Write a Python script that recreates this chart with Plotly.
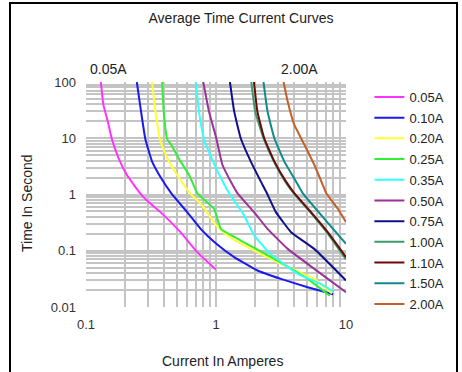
import plotly.graph_objects as go

# ---- data ----
names = ["0.05A", "0.10A", "0.20A", "0.25A", "0.35A", "0.50A", "0.75A", "1.00A", "1.10A", "1.50A", "2.00A"]
colors = ["#ff33ff", "#1a1aee", "#ffff33", "#33ee33", "#33ffff", "#993399", "#10108a",
          "#3a9a6e", "#6a0a0a", "#108a8a", "#c0602a"]

x_005 = [0.130, 0.136, 0.147, 0.158, 0.178, 0.206, 0.26, 0.30, 0.374, 0.533, 0.718, 0.995]
y_005 = [100, 39.5, 20, 9.7, 4.45, 2.24, 1.06, 0.75, 0.486, 0.214, 0.0944, 0.0465]

x_010 = [0.246, 0.265, 0.286, 0.322, 0.378, 0.452, 0.600, 0.762, 0.99, 1.38, 2.08, 3.16, 5.07, 7.96]
y_010 = [100, 30, 9.7, 3.88, 1.96, 1.06, 0.486, 0.245, 0.137, 0.0769, 0.0446, 0.0316, 0.0225, 0.0169]

x_020 = [0.322, 0.342, 0.370, 0.421, 0.502, 0.63, 0.783, 1.0, 1.22, 1.75, 3.16, 5.7, 7.8]
y_020 = [100, 30, 9.7, 4.45, 2.24, 1.06, 0.64, 0.282, 0.187, 0.116, 0.0585, 0.0316, 0.0174]

x_025 = [0.385, 0.396, 0.421, 0.452, 0.533, 0.62, 0.718, 0.966, 1.09, 1.55, 2.8, 5.07, 7.5]
y_025 = [100, 30, 9.7, 7.66, 3.88, 2.24, 1.06, 0.557, 0.245, 0.152, 0.0718, 0.0316, 0.0158]

x_035 = [0.697, 0.74, 0.808, 0.90, 1.0, 1.26, 1.64, 1.96, 2.62, 4.25, 6.43, 8.05]
y_035 = [100, 30, 9.7, 5.1, 2.95, 1.06, 0.43, 0.19, 0.088, 0.0388, 0.0255, 0.0186]

x_050 = [0.798, 0.883, 1.0, 1.12, 1.34, 1.46, 1.96, 2.49, 3.56, 5.7, 10]
y_050 = [100, 30, 10.5, 3.38, 1.49, 1.06, 0.486, 0.245, 0.108, 0.0477, 0.0183]

x_075 = [1.28, 1.38, 1.55, 1.85, 2.21, 2.46, 2.89, 3.78, 5.7, 10]
y_075 = [100, 30, 10, 3.88, 1.71, 1.06, 0.486, 0.214, 0.108, 0.0296]

x_100 = [1.87, 2.0, 2.32, 2.78, 3.4, 3.95, 5.3, 7.1, 10]
y_100 = [100, 30, 10, 3.88, 1.71, 1.06, 0.486, 0.214, 0.070]

x_110 = [1.96, 2.08, 2.35, 2.81, 3.45, 4.0, 5.38, 7.24, 10]
y_110 = [100, 30, 10, 3.88, 1.71, 1.06, 0.486, 0.214, 0.077]

x_150 = [2.32, 2.49, 2.81, 3.35, 4.12, 4.64, 6.82, 10]
y_150 = [100, 30, 10, 3.88, 1.71, 1.06, 0.37, 0.133]

x_200 = [3.31, 3.56, 4.0, 4.79, 5.7, 6.62, 7.03, 8.65, 10]
y_200 = [100, 45, 17.4, 7.66, 3.38, 1.49, 1.06, 0.557, 0.323]

xs = [x_005, x_010, x_020, x_025, x_035, x_050, x_075, x_100, x_110, x_150, x_200]
ys = [y_005, y_010, y_020, y_025, y_035, y_050, y_075, y_100, y_110, y_150, y_200]

x_grid = [0.1, 0.2, 0.3, 0.4, 0.5, 0.6, 0.7, 0.8, 0.9, 1, 2, 3, 4, 5, 6, 7, 8, 9, 10]
x_labels = {0.1: "0.1", 1: "1", 10: "10"}
y_grid = [0.01, 0.02, 0.03, 0.04, 0.05, 0.06, 0.07, 0.08, 0.09,
          0.1, 0.2, 0.3, 0.4, 0.5, 0.6, 0.7, 0.8, 0.9,
          1, 2, 3, 4, 5, 6, 7, 8, 9, 10, 20, 30, 40, 50, 60, 70, 80, 90, 100]
y_labels = {0.01: "0.01", 0.1: "0.1", 1: "1", 10: "10", 100: "100"}

FONT = "Liberation Sans, Arial, sans-serif"
W, H = 462, 372
L, R, T, B = 86, 116, 82, 65
PW, PH = W - L - R, H - T - B


def px_x(p):
    return (p - L) / PW


def px_y(p):
    return (H - B - p) / PH


fig = go.Figure()
for i, (n, c, xv, yv) in enumerate(zip(names, colors, xs, ys)):
    fig.add_trace(go.Scatter(x=xv, y=yv, mode="lines", name=n, legendgroup=n,
                             line=dict(color=c, width=2, shape="spline", smoothing=0.35)))

grid_color = "#c4c4c4"
fig.update_layout(
    width=W, height=H,
    margin=dict(l=L, r=R, t=T, b=B, autoexpand=False),
    paper_bgcolor="white", plot_bgcolor="white",
    font=dict(family=FONT, size=13, color="#333333"),
    title=dict(text="Average Time Current Curves", x=241/W, xanchor="center",
               y=1 - 18/H, yanchor="middle", font=dict(size=14, color="#222222")),
    xaxis=dict(type="log", range=[-1, 1], tickvals=x_grid,
               ticktext=[x_labels.get(v, "") for v in x_grid],
               showgrid=True, gridcolor=grid_color, gridwidth=1.6,
               zeroline=False, showline=False, ticks="", automargin=False,
               ticklabelstandoff=8, tickfont=dict(size=13, color="#333333")),
    yaxis=dict(type="log", range=[-2, 2], tickvals=y_grid,
               ticktext=[y_labels.get(v, "") for v in y_grid],
               showgrid=True, gridcolor=grid_color, gridwidth=1.6,
               zeroline=False, showline=False, ticks="", automargin=False,
               ticklabelstandoff=9, tickfont=dict(size=13, color="#333333")),
    legend=dict(x=1.09, xanchor="left", y=1.0, yanchor="top",
                font=dict(size=13, color="#222222"), tracegroupgap=0.8,
                itemwidth=30, bgcolor="rgba(0,0,0,0)", maxheight=300),
    showlegend=True,
)

# axis titles
fig.add_annotation(x=px_x(222), y=px_y(361), xref="paper", yref="paper",
                   text="Current In Amperes", showarrow=False,
                   xanchor="center", yanchor="middle", font=dict(size=14, color="#222222"))
fig.add_annotation(x=px_x(27), y=px_y(203), xref="paper", yref="paper",
                   text="Time In Second", showarrow=False, textangle=-90,
                   xanchor="center", yanchor="middle", font=dict(size=14, color="#222222"))

fig.add_annotation(x=-0.826, y=2, xref="x", yref="y", text="0.05A", showarrow=False,
                   yanchor="bottom", yshift=3, font=dict(size=14, color="#222222"))
fig.add_annotation(x=0.641, y=2, xref="x", yref="y", text="2.00A", showarrow=False,
                   yanchor="bottom", yshift=3, font=dict(size=14, color="#222222"))

# outer frame
fig.add_shape(type="rect", xref="paper", yref="paper",
              x0=px_x(10), x1=px_x(457), y0=px_y(380), y1=px_y(3),
              line=dict(color="black", width=2), fillcolor="rgba(0,0,0,0)")

fig.write_html("out.html", config={"displayModeBar": False},
               post_script="document.body.style.margin='0';")
